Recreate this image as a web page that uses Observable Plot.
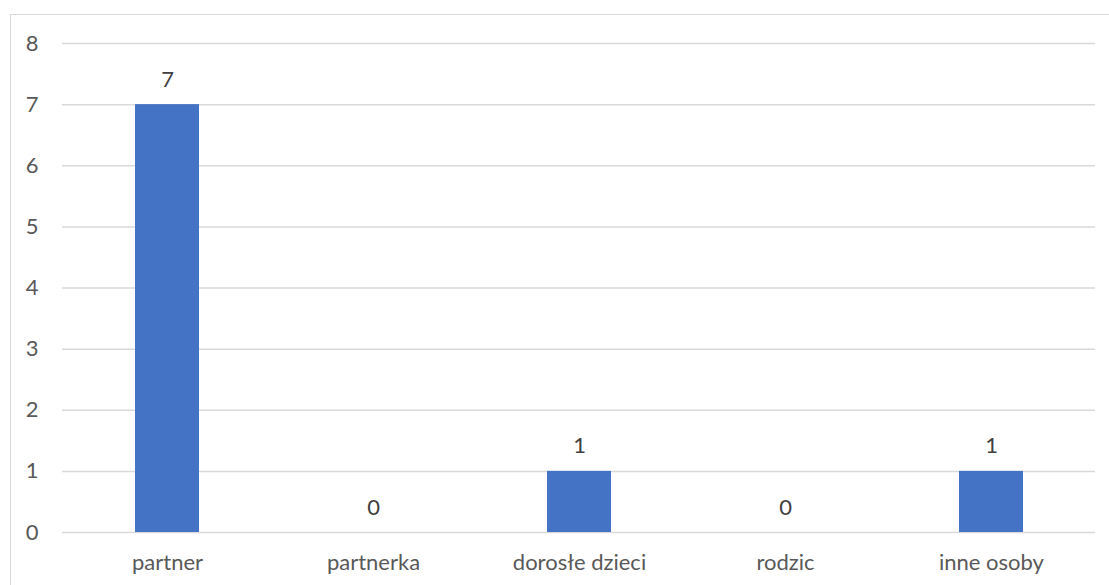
<!DOCTYPE html>
<html>
<head>
<meta charset="utf-8">
<script src="https://cdn.jsdelivr.net/npm/d3@7"></script>
<script src="https://cdn.jsdelivr.net/npm/@observablehq/plot@0.6"></script>
<style>
  html, body { margin: 0; padding: 0; background: #fff; }
  #wrap { position: relative; width: 1109px; height: 585px; overflow: hidden; }
  #border { position: absolute; left: 10px; top: 14px; width: 1200px; height: 700px; border: 1.5px solid #d9d9d9; box-sizing: border-box; }
  #chart { position: absolute; left: 0; top: 0; }
</style>
</head>
<body>
<div id="wrap"><div id="border"></div><div id="chart"></div></div>
<script>
const categories = ["partner", "partnerka", "dorosłe dzieci", "rodzic", "inne osoby"];
const values = [7, 0, 1, 0, 1];
const yTicks = [0, 1, 2, 3, 4, 5, 6, 7, 8];

const data = categories.map((c, i) => ({category: c, value: values[i]}));
const font = "Lato, 'Open Sans', sans-serif";

const chart = Plot.plot({
  width: 1109,
  height: 585,
  marginLeft: 62,
  marginRight: 14,
  marginTop: 43,
  marginBottom: 53,
  style: {fontFamily: font, fontSize: "22px", color: "#595959", background: "transparent"},
  x: {domain: categories, paddingInner: 0.69, paddingOuter: 0.345, label: null, tickSize: 0, tickPadding: 22},
  y: {domain: [0, 8], ticks: yTicks, label: null, tickSize: 0, tickPadding: 24, tickFormat: d => String(d)},
  marks: [
    Plot.gridY(yTicks, {stroke: "#d9d9d9", strokeOpacity: 1, strokeWidth: 1.5}),
    Plot.barY(data, {x: "category", y: "value", fill: "#4472C4"}),
    Plot.text(data, {x: "category", y: "value", text: d => String(d.value), dy: -25, fill: "#404040", fontSize: 22, fontFamily: font})
  ]
});
document.getElementById("chart").appendChild(chart);
</script>
</body>
</html>
